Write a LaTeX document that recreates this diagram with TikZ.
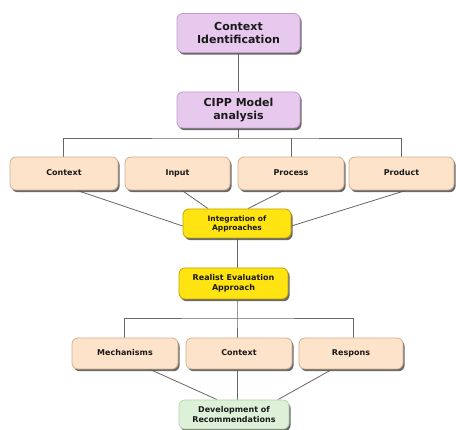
\documentclass[tikz,border=0pt]{standalone}
\usepackage{fontspec}
\setmainfont{DejaVu Sans}
\usetikzlibrary{shadows,backgrounds,calc}
\definecolor{vfill}{HTML}{E8C9EE}
\definecolor{vdraw}{HTML}{C29BCB}
\definecolor{bfill}{HTML}{FCE3CA}
\definecolor{bdraw}{HTML}{D3B193}
\definecolor{yfill}{HTML}{FFE411}
\definecolor{ydraw}{HTML}{C2A200}
\definecolor{gfill}{HTML}{DDF1D9}
\definecolor{gdraw}{HTML}{B3D4AB}
\definecolor{lcol}{HTML}{666666}
\begin{document}
\begin{tikzpicture}[x=1pt,y=-1pt,
  box/.style={rectangle, rounded corners=6pt, line width=0.8pt, align=center,
    font=\bfseries\fontsize{8}{9.5}\selectfont, text=black!90,
    inner sep=0pt,
    drop shadow={shadow xshift=1.6pt, shadow yshift=-2.2pt, fill=black!65, opacity=0.9}},
  one/.style={text height=6pt, text depth=1.7pt},
  vbox/.style={box, fill=vfill, draw=vdraw, font=\bfseries\fontsize{11}{13}\selectfont},
  bbox/.style={box, fill=bfill, draw=bdraw},
  ybox/.style={box, fill=yfill, draw=ydraw},
  gbox/.style={box, fill=gfill, draw=gdraw},
  conn/.style={draw=lcol, line width=0.8pt}]
\useasboundingbox (0,0) rectangle (456,430);

\node[vbox, minimum width=123pt, minimum height=39pt] (ctxid) at (238.5,33) {Context\\Identification};
\node[vbox, minimum width=123pt, minimum height=36pt] (cipp) at (238.5,110) {CIPP Model\\analysis};

\node[bbox, one, minimum width=108pt, minimum height=33pt] (c1) at (64,173.5) {Context};
\node[bbox, one, minimum width=105pt, minimum height=33pt] (c2) at (177.5,173.5) {Input};
\node[bbox, one, minimum width=106pt, minimum height=33pt] (c3) at (291,173.5) {Process};
\node[bbox, one, minimum width=105pt, minimum height=33pt] (c4) at (401.5,173.5) {Product};

\node[ybox, minimum width=108pt, minimum height=29pt, font=\bfseries\fontsize{7.5}{9}\selectfont] (integ) at (237,223.5) {Integration of\\Approaches};
\node[ybox, minimum width=109pt, minimum height=31pt] (real) at (233.5,283.5) {Realist Evaluation\\Approach};

\node[bbox, one, minimum width=106pt, minimum height=31pt] (m1) at (125,353.5) {Mechanisms};
\node[bbox, one, minimum width=106pt, minimum height=31pt] (m2) at (239,353.5) {Context};
\node[bbox, one, minimum width=104pt, minimum height=31pt] (m3) at (351,353.5) {Respons};

\node[gbox, minimum width=110pt, minimum height=29pt] (dev) at (234,414.5) {Development of\\Recommendations};

\coordinate (busa) at (238.5,138);
\coordinate (busb) at (237,318);

\begin{scope}[on background layer]
\draw[conn] (ctxid.south) -- (cipp.north);
\draw[conn] (cipp.south) -- (busa);
\draw[conn] (c1.north -| 63,0) |- (busa) -| (c4.north -| 401,0);
\draw[conn] (c2.north -| 175,0) -- (c2.north -| 175,0 |- busa);
\draw[conn] (c3.north) -- (c3.north |- busa);
\draw[conn] ($(c1.south)+(13,0)$) -- ($(integ.west)+(0,2.5)$);
\draw[conn] ($(c2.south)+(4.5,0)$) -- ($(integ.north)+(-29,0)$);
\draw[conn] ($(c3.south)+(-7,0)$) -- ($(integ.north)+(11,0)$);
\draw[conn] ($(c4.south)+(4.5,0)$) -- ($(integ.east)+(0,2.5)$);
\draw[conn] (integ.south) -- (integ.south |- real.north);
\draw[conn] (integ.south |- real.south) -- (busb) -- (busb |- m2.north);
\draw[conn] (m1.north -| 124,0) |- (busb) -| (m3.north -| 353,0);
\draw[conn] ($(m1.south)+(25,0)$) -- ($(dev.north)+(-17,0)$);
\draw[conn] (busb |- m2.south) -- (busb |- dev.north);
\draw[conn] ($(m3.south)+(-19,0)$) -- ($(dev.north)+(44,0)$);
\end{scope}
\end{tikzpicture}
\end{document}
